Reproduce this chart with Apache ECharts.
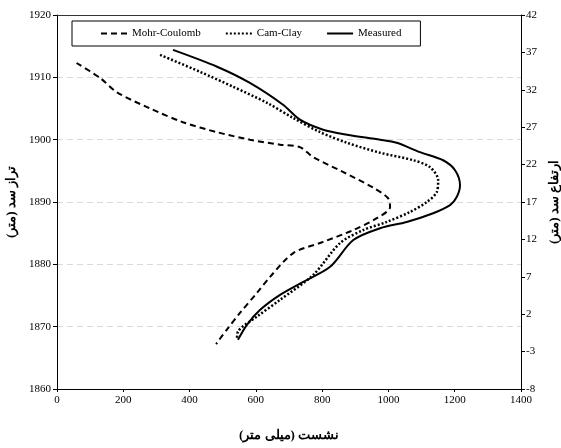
<!DOCTYPE html>
<html><head><meta charset="utf-8">
<script src="https://cdn.jsdelivr.net/npm/echarts@6/dist/echarts.min.js"></script>
<style>html,body{margin:0;padding:0;background:#fff}#c{width:561px;height:448px}</style>
</head><body><div id="c"></div>
<script>
// Settlement (mm) and elevation (m)
const mcX = [59,130,181,281,380,483,582,673,733,773,864,954,999,1005,965,894,803,713,643,603,552,512,480];
const mcY = [1912.3,1909.9,1907.6,1905,1902.8,1901.2,1900,1899.2,1898.8,1897.2,1894.8,1892.3,1890.6,1889.2,1887.4,1885.5,1883.6,1881.8,1878,1875.4,1872.2,1869.5,1867.2];
const ccX = [311,431,531,634,712,794,875,975,1075,1125,1150,1146,1116,1065,995,924,854,773,673,603,546,543];
const ccY = [1913.6,1910.9,1908.5,1905.9,1903.5,1901.2,1899.5,1897.9,1896.7,1895.6,1893.5,1891.6,1890,1888.4,1886.8,1885.5,1883.4,1878.3,1874.3,1871.6,1869.2,1867.9];
const msX = [350,483,582,682,733,803,875,975,1025,1095,1165,1201,1216,1206,1186,1135,1055,975,894,824,743,673,613,573,546];
const msY = [1914.4,1911.7,1909.1,1905.6,1903.2,1901.6,1900.8,1900,1899.5,1898,1896.7,1895.1,1892.7,1890.8,1889.5,1888.2,1886.8,1885.8,1883.9,1879.6,1877.2,1875.1,1872.7,1870.3,1867.9];
const seriesNames = ['Mohr-Coulomb','Cam-Clay','Measured'];
const rightTickLabels = ['-8','-3','2','7','12','17','22','27','32','37','42'];
const xTitle = 'نشست (میلی متر)';
const yTitleLeft = 'تراز سد (متر)';
const yTitleRight = 'ارتفاع سد (متر)';

const pairs = (xs, ys) => xs.map((x, i) => [x, ys[i]]);
const F = 'Liberation Serif';
const chart = echarts.init(document.getElementById('c'), null, {renderer: 'canvas'});
chart.setOption({
  animation: false,
  grid: {left: 57, right: 40, top: 15, bottom: 59, containLabel: false, outerBoundsMode: 'none'},
  legend: {
    left: 72, top: 21, padding: [7, 19, 7, 28], itemGap: 24, itemWidth: 26, itemHeight: 10,
    borderColor: '#000', borderWidth: 1, backgroundColor: '#fff',
    itemStyle: {opacity: 0},
    textStyle: {fontFamily: F, fontSize: 11, color: '#000'},
    data: seriesNames
  },
  xAxis: [{
    type: 'value', min: 0, max: 1400, interval: 200, position: 'bottom',
    name: xTitle, nameLocation: 'middle', nameGap: 40,
    nameTextStyle: {fontFamily: F, fontSize: 13, fontWeight: 'bold', color: '#000'},
    axisLine: {onZero: false, lineStyle: {color: '#000', width: 1}},
    axisTick: {inside: false, length: 3, lineStyle: {color: '#000'}},
    axisLabel: {fontFamily: F, fontSize: 11, color: '#000', margin: 6, formatter: v => String(v)},
    splitLine: {show: false}
  }, {
    type: 'value', min: 0, max: 1400, position: 'top',
    axisLine: {show: true, onZero: false, lineStyle: {color: '#333', width: 1}},
    axisTick: {show: false}, axisLabel: {show: false}, splitLine: {show: false}
  }],
  yAxis: [{
    type: 'value', min: 1860, max: 1920, interval: 10, position: 'left',
    name: yTitleLeft, nameLocation: 'middle', nameGap: 37, nameRotate: 90,
    nameTextStyle: {fontFamily: F, fontSize: 13, fontWeight: 'bold', color: '#000'},
    axisLine: {show: true, onZero: false, lineStyle: {color: '#000', width: 1}},
    axisTick: {show: true, length: 4, lineStyle: {color: '#000'}},
    axisLabel: {fontFamily: F, fontSize: 11, color: '#000', margin: 6, formatter: v => String(v)},
    splitLine: {show: true, lineStyle: {color: '#d9d9d9', type: [6, 4], width: 1}}
  }, {
    type: 'value', min: 0, max: 50, interval: 5, position: 'right',
    name: yTitleRight, nameLocation: 'middle', nameGap: 25, nameRotate: 90,
    nameTextStyle: {fontFamily: F, fontSize: 13, fontWeight: 'bold', color: '#000'},
    axisLine: {show: true, onZero: false, lineStyle: {color: '#000', width: 1}},
    axisTick: {show: true, length: 4, lineStyle: {color: '#000'}},
    axisLabel: {fontFamily: F, fontSize: 11, color: '#000', margin: 5,
      formatter: (v, i) => rightTickLabels[i]},
    splitLine: {show: false}
  }],
  series: [
    {name: seriesNames[0], type: 'line', data: pairs(mcX, mcY), symbol: 'none', smooth: 0.3,
     lineStyle: {color: '#000', width: 2, type: [6, 4]}, itemStyle: {color: '#000'}},
    {name: seriesNames[1], type: 'line', data: pairs(ccX, ccY), symbol: 'none', smooth: 0.3,
     lineStyle: {color: '#000', width: 2.5, type: [2, 2]}, itemStyle: {color: '#000'}},
    {name: seriesNames[2], type: 'line', data: pairs(msX, msY), symbol: 'none', smooth: 0.3,
     lineStyle: {color: '#000', width: 2}, itemStyle: {color: '#000'}}
  ]
});
</script></body></html>
